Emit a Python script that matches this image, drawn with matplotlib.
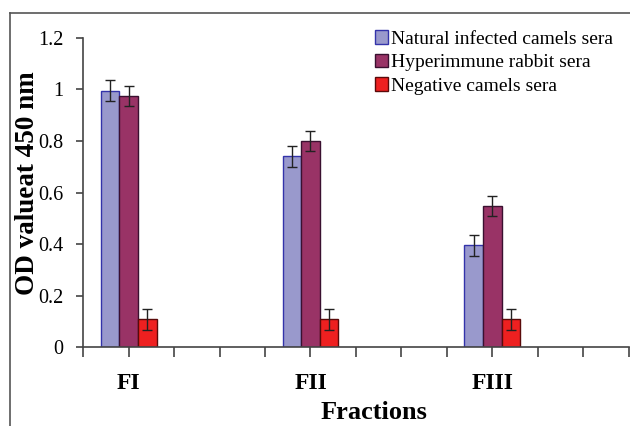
import matplotlib
matplotlib.use("Agg")
import matplotlib.pyplot as plt
import numpy as np
from matplotlib.lines import Line2D

categories = ["FI", "FII", "FIII"]
series = ["Natural infected camels sera", "Hyperimmune rabbit sera", "Negative camels sera"]
natural = [0.995, 0.74, 0.395]
hyper = [0.975, 0.80, 0.548]
negative = [0.108, 0.108, 0.108]
err_natural = [0.04, 0.04, 0.04]
err_hyper = [0.04, 0.04, 0.04]
err_negative = [0.04, 0.04, 0.04]

fills = ["#9999cc", "#993366", "#ee2020"]
edges = ["#3333aa", "#3a1030", "#5a0a0a"]

plt.rcParams['font.family'] = ['Liberation Serif', 'DejaVu Serif']

fig = plt.figure(figsize=(6.3, 4.26), dpi=100)
ax = fig.add_axes([0.132, 0.185, 0.866, 0.726])

pos = np.array([1, 5, 9])
w = 0.41
data = [natural, hyper, negative]
errs = [err_natural, err_hyper, err_negative]
for i in range(3):
    ax.bar(pos + (i - 1) * w, data[i], width=w, color=fills[i], edgecolor=edges[i],
           linewidth=1.0, yerr=errs[i], capsize=3.5,
           error_kw=dict(ecolor="#222222", elinewidth=1.0, capthick=1.0),
           label=series[i], zorder=2)

ax.set_xlim(0, 12)
ax.set_ylim(0, 1.2)
ax.set_yticks(np.arange(0, 1.21, 0.2))
ax.set_yticklabels(["0", "0.2", "0.4", "0.6", "0.8", "1", "1.2"], fontsize=14.5)
ax.set_xticks(np.arange(0, 13, 1))
ax.set_xticklabels([])
for p, c in zip(pos, categories):
    ax.text(p, -0.14, c, ha="center", va="center", fontsize=17, fontweight="bold",
            clip_on=False)
ax.text(6.4, -0.252, "Fractions", ha="center", va="center", fontsize=19, fontweight="bold",
        clip_on=False)
ax.set_ylabel("OD valueat 450 nm", fontsize=19.5, fontweight="bold")
ax.yaxis.set_label_coords(-0.08, 0.53)

for s in ["top", "right"]:
    ax.spines[s].set_visible(False)
for s in ["left", "bottom"]:
    ax.spines[s].set_color("#444444")
    ax.spines[s].set_linewidth(1.2)
ax.tick_params(axis="x", direction="out", length=7, width=1.2, color="#444444")
ax.tick_params(axis="y", direction="out", length=5, width=1.2, color="#444444", pad=9)

leg = ax.legend(loc="upper left", bbox_to_anchor=(0.52, 1.05), frameon=False,
                fontsize=14, handlelength=0.7, handleheight=0.7, handletextpad=0.15,
                labelspacing=0.3, borderaxespad=0)

# figure frame (left and top)
fig.add_artist(Line2D([0.016, 0.016], [0, 0.97], color="#555555", linewidth=1.2,
                      transform=fig.transFigure))
fig.add_artist(Line2D([0.016, 1.0], [0.97, 0.97], color="#555555", linewidth=1.2,
                      transform=fig.transFigure))

fig.savefig("out.png", dpi=100)
